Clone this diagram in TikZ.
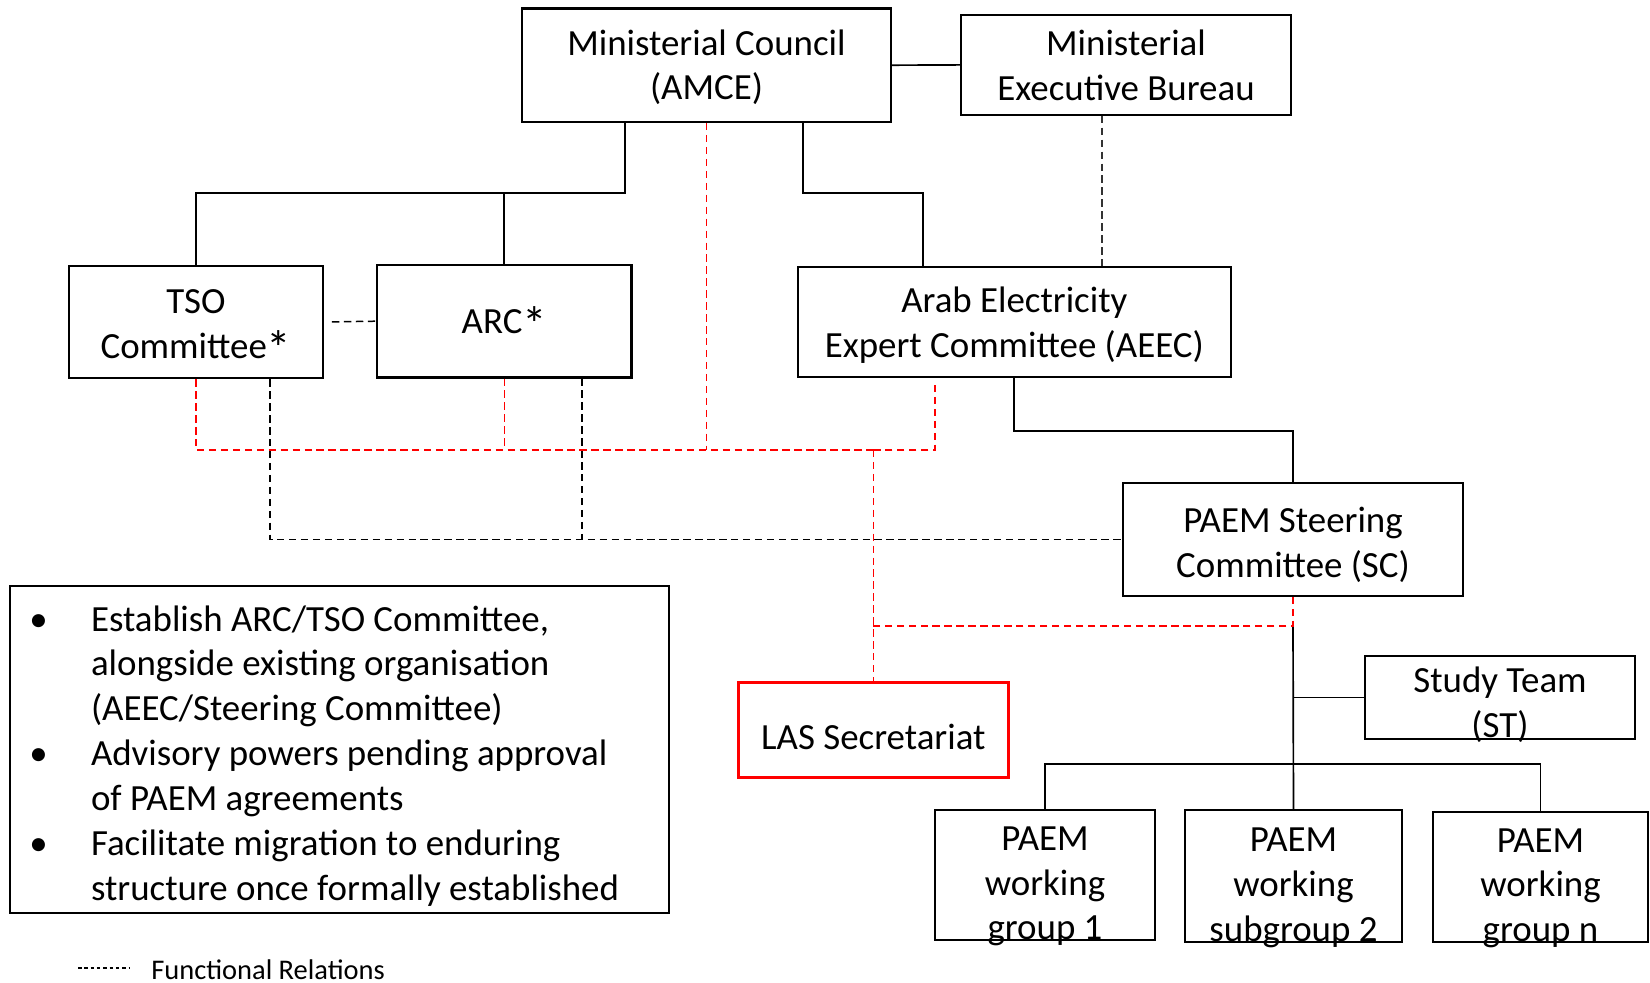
\documentclass[tikz,border=0pt]{standalone}
\usepackage{fontspec}
\setmainfont{Carlito}
\usepackage{xcolor}
\usepackage{tikz}
\usetikzlibrary{calc}

\newcommand{\astsign}{\raisebox{-4pt}{\fontsize{28}{28}\selectfont *}}

\begin{document}
\begin{tikzpicture}[
  x=0.02cm, y=-0.02cm,
  font=\fontsize{21}{25.5}\selectfont,
  box/.style={draw, line width=1.25pt, align=center, inner xsep=2pt,
              inner ysep=0pt},
  lasbox/.style={box, draw=red, line width=1.5pt},
  link/.style={line width=0.95pt},
  flink/.style={line width=0.85pt, dash pattern=on 4.2pt off 2.6pt},
  rlink/.style={flink, red}
]
  \useasboundingbox (0,0) rectangle (1650,983);

  % organisation boxes
  \node[box, minimum width=7.38cm, minimum height=2.27cm,
        text height=1.496cm, text depth=0.104cm] (mc) at (706.5,65.2)
    {Ministerial Council\\(AMCE)};
  \node[box, minimum width=6.6cm, minimum height=1.99cm,
        text height=1.516cm, text depth=0.084cm] (meb) at (1126,64.9)
    {Ministerial\\Executive Bureau};
  \node[box, minimum width=5.08cm, minimum height=2.25cm,
        text height=1.53cm, text depth=0.07cm] (tso) at (196,322)
    {TSO\\Committee\astsign};
  \node[box, minimum width=5.09cm, minimum height=2.25cm,
        text height=1.056cm, text depth=0.544cm] (arc) at (504.3,321.2)
    {ARC\astsign};
  \node[box, minimum width=8.67cm, minimum height=2.2cm,
        text height=1.516cm, text depth=0.084cm] (aeec) at (1014.3,321.7)
    {Arab Electricity\\Expert Committee (AEEC)};
  \node[box, minimum width=6.8cm, minimum height=2.25cm,
        text height=1.564cm, text depth=0.036cm] (sc) at (1293,539.5)
    {PAEM Steering\\Committee (SC)};
  \node[box, minimum width=5.4cm, minimum height=1.65cm,
        text height=1.616cm, text depth=-0.016cm] (st) at (1500,697.4)
    {Study Team\\(ST)};
  \node[lasbox, minimum width=5.4cm, minimum height=1.9cm,
        text height=1.198cm, text depth=0.402cm] (las) at (873.3,729.8)
    {LAS Secretariat};
  \node[box, minimum width=4.41cm, minimum height=2.53cm,
        text height=2.6cm, text depth=-0.4cm] (wg1) at (1045,875)
    {PAEM\\working\\group 1};
  \node[box, minimum width=4.34cm, minimum height=2.64cm,
        text height=2.6cm, text depth=-0.38cm] (wg2) at (1293.5,876.2)
    {PAEM\\working\\subgroup 2};
  \node[box, minimum width=4.3cm, minimum height=2.57cm,
        text height=2.6cm, text depth=-0.4cm] (wgn) at (1540.5,876.7)
    {PAEM\\working\\group n};

  % notes
  \node[box, minimum width=13.18cm, minimum height=6.54cm] (notes) at (339.5,749.5) {};
  \node[anchor=base west, inner sep=0pt, font=\fontsize{21}{25.55}\selectfont] (bullets)
    at (29,631) {%
    \begin{tabular}[t]{@{}p{1.234cm}@{}l@{}}
      \textbullet & Establish ARC/TSO Committee,\\
                  & alongside existing organisation\\
                  & (AEEC/Steering Committee)\\
      \textbullet & Advisory powers pending approval\\
                  & of PAEM agreements\\
      \textbullet & Facilitate migration to enduring\\
                  & structure once formally established
    \end{tabular}};

  % solid lines
  \coordinate (jl) at (625,193);
  \coordinate (jr) at (803,193);
  \coordinate (ja) at (923,193);
  \draw[link] (mc.south -| jl) -- (jl) -| (tso.north);
  \draw[link] (jl) -| (arc.north);
  \draw[link] (mc.south -| jr) -- (jr) -- (ja) -- (ja |- aeec.north);
  \draw[link] (mc.east) -- (meb.west);
  \draw[link] (aeec.south) -- ++(0,53.5) -| (sc.north);
  \coordinate (jsc) at (1293,626);
  \coordinate (jwg) at (1293,764);
  \draw[link] (jsc) -- (wg2.north);
  \draw[link] (st.west) -- (st.west -| jsc);
  \draw[link] (wg1.north) |- (jwg) -| (wgn.north);

  % functional relations
  \coordinate (fm) at (1102,115);
  \coordinate (ft) at (270,539.5);
  \coordinate (fa) at (582,539.5);
  \draw[flink, black!80] (meb.south -| fm) -- (aeec.north -| fm);
  \draw[flink, shorten <=4.5pt] (tso.east) -- (arc.west);
  \draw[flink] (tso.south -| ft) |- (sc.west);
  \draw[flink] (arc.south -| fa) -- (fa);

  % LAS secretariat relations
  \coordinate (rj) at (873.3,450);
  \coordinate (ra) at (935,385);
  \draw[rlink] (tso.south) |- (rj);
  \draw[rlink] (arc.south) -- (arc.south |- rj);
  \draw[rlink] (mc.south) -- (mc.south |- rj);
  \draw[rlink] (ra) |- (rj);
  \draw[rlink] (rj) -- (las.north);
  \draw[rlink] (sc.south) -- (jsc) -- (jsc -| las.north);

  % legend
  \coordinate (lga) at (78,968);
  \coordinate (lgb) at (130,968);
  \draw[line width=0.6pt, dash pattern=on 2pt off 1.6pt] (lga) -- (lgb);
  \node[anchor=base west, inner sep=0pt, font=\fontsize{16.2}{19.5}\selectfont] (legend)
    at (151,979) {Functional Relations};
\end{tikzpicture}
\end{document}
